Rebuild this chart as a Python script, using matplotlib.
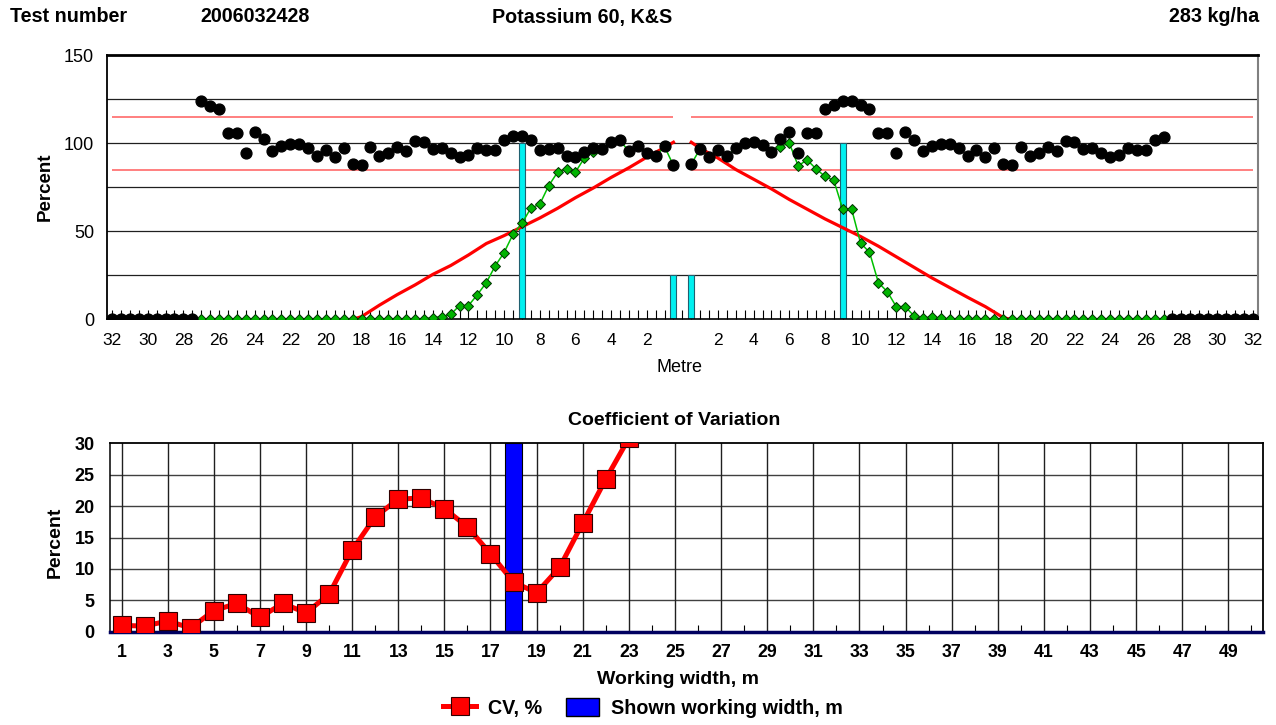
import numpy as np
import matplotlib
matplotlib.use('Agg')
import matplotlib.pyplot as plt
from matplotlib.lines import Line2D
from matplotlib.patches import Patch
from matplotlib.ticker import MultipleLocator

plt.rcParams['font.family'] = ['Liberation Sans', 'DejaVu Sans']

#################### DATA (top chart, percent per 0.5 m tray) ####################
metre_left = np.arange(-32, 0, 0.5)      # -32 .. -0.5
metre_right = np.arange(0.5, 32.5, 0.5)  # 0.5 .. 32

# overlapped distribution (black dots)
black_left = [0, 0, 0, 0, 0, 0, 0, 0, 0, 0,
              123.7, 121.2, 119.3, 105.5, 105.5, 94.5, 106.3, 102.1, 95.3, 98.5,
              99.4, 99.6, 97.2, 92.8, 96.0, 91.9, 97.0, 88.4, 87.3, 97.9,
              92.8, 94.5, 97.9, 95.3, 101.3, 100.6, 96.8, 97.0, 94.3, 91.9,
              93.0, 97.2, 96.2, 96.2, 101.9, 103.8, 103.8, 101.5, 96.2, 96.8,
              97.2, 92.8, 91.9, 94.7, 97.2, 96.6, 100.9, 101.5, 95.3, 98.1,
              94.3, 92.4, 98.1, 87.3]
black_right = [88.1, 96.8, 91.9, 96.2, 92.4, 97.2, 100.0, 100.4, 99.1, 94.7,
               102.3, 106.3, 94.3, 105.7, 105.7, 119.3, 121.8, 123.7, 123.7, 121.8,
               119.3, 105.7, 105.7, 94.3, 106.3, 101.9, 95.3, 98.5, 99.4, 99.6,
               97.2, 92.8, 96.0, 91.9, 97.0, 88.4, 87.3, 97.9, 92.8, 94.5,
               97.9, 95.3, 101.3, 100.6, 96.8, 97.0, 94.3, 91.9, 93.0, 97.2,
               96.2, 96.2, 101.9, 103.2,
               0, 0, 0, 0, 0, 0, 0, 0, 0, 0]

# single pass (green diamonds), nan = not drawn
nan = np.nan
green_left = [nan, nan, nan, nan, nan, nan, nan, nan, nan, nan,
              0, 0, 0, 0, 0, 0, 0, 0, 0, 0,
              0, 0, 0, 0, 0, 0, 0, 0, 0, 0,
              0, 0, 0, 0, 0, 0.3, 0.9, 1.5, 2.8, 7.8,
              7.8, 14.0, 20.8, 30.3, 37.9, 48.3, 54.5, 63.1, 65.3, 75.8,
              83.5, 85.5, 83.5, 91.5, 95.0, 96.6, 100.9, 101.5, 95.3, 98.1,
              94.3, 92.4, 98.1, 87.3]
green_right = [88.1, 96.8, 91.9, 96.2, 92.4, 97.2, 100.0, 100.4, 99.1, 94.7,
               98.0, 100.0, 87.1, 90.5, 85.4, 81.1, 78.8, 62.5, 62.5, 43.2,
               38.1, 20.8, 15.7, 7.2, 7.2, 1.9, 0.5, 1.5, 0.5, 0,
               0, 0, 0, 0, 0, 0, 0, 0, 0, 0,
               0, 0, 0, 0, 0, 0, 0, 0, 0, 0,
               0, 0, 0, 0,
               nan, nan, nan, nan, nan, nan, nan, nan, nan, nan]

# red curve
red_left_m = [-18.5, -18, -17, -16, -15, -14, -13, -12, -11, -10,
              -9, -8, -7, -6, -5, -4, -3, -2, -1, -0.5]
red_left = [0, 1.5, 8.0, 14.0, 19.5, 25.5, 30.5, 36.5, 43.0, 47.5,
            52.5, 57.5, 63.0, 69.0, 74.5, 80.5, 86.0, 92.0, 97.5, 100.5]
red_right_m = [0.5, 1, 2, 3, 4, 5, 6, 7, 8, 9,
               10, 11, 12, 13, 14, 15, 16, 17, 18, 18.4]
red_right = [100.5, 97.0, 91.5, 85.0, 79.5, 74.0, 68.0, 62.5, 57.0, 52.0,
             47.0, 41.5, 35.5, 29.5, 23.5, 18.0, 12.5, 7.2, 1.0, 0]

band_levels = [85, 115]
grid_levels = [25, 50, 75, 100, 125]

tram_m = [-9, -0.5, 0.5, 9]
tram_h = [100, 25, 25, 100]

xtick_pos = [-32, -30, -28, -26, -24, -22, -20, -18, -16, -14, -12, -10, -8, -6, -4, -2,
             2, 4, 6, 8, 10, 12, 14, 16, 18, 20, 22, 24, 26, 28, 30, 32]
xtick_lab = [str(abs(v)) for v in xtick_pos]

#################### DATA (bottom chart) ####################
cv_width = list(range(1, 24))
cv = [1.0, 0.9, 1.7, 0.6, 3.35, 4.5, 2.3, 4.5, 3.0, 5.95,
      13.0, 18.3, 21.1, 21.3, 19.6, 16.7, 12.4, 7.9, 6.2, 10.25,
      17.3, 24.3, 30.8]
shown_width = 18

W, H = 1276, 725
fig = plt.figure(figsize=(W / 100, H / 100), dpi=100)

def fx(px):
    return px / W

def fy(py):
    return 1 - py / H

#################### header ####################
fig.text(fx(10), fy(17), 'Test number', fontsize=14.2, fontweight='bold', va='center', ha='left')
fig.text(fx(200), fy(17), '2006032428', fontsize=14.2, fontweight='bold', va='center', ha='left')
fig.text(fx(582), fy(17), 'Potassium 60, K&S', fontsize=14.2, fontweight='bold', va='center', ha='center')
fig.text(fx(1259), fy(17), '283 kg/ha', fontsize=14.2, fontweight='bold', va='center', ha='right')

#################### top chart ####################
ax1 = fig.add_axes([fx(106.7), fy(319.3), fx(1258 - 106.7), (319.3 - 55) / H])
ax1.set_xlim(-32.3, 32.3)
ax1.set_ylim(0, 150)

for g in grid_levels:
    ax1.axhline(g, color='#202020', lw=0.9, zorder=1)
ax1.hlines(band_levels, -32, -0.5, color='#ff5c5c', lw=1.1, zorder=1.5)
ax1.hlines(band_levels, 0.5, 32, color='#ff5c5c', lw=1.1, zorder=1.5)

ax1.bar(tram_m, tram_h, width=0.33, color='#00f0f0', edgecolor='#206070', lw=0.8, zorder=2)

ax1.plot(red_left_m, red_left, color='#ff0000', lw=2.3, zorder=3)
ax1.plot(red_right_m, red_right, color='#ff0000', lw=2.3, zorder=3)

for xs, ys in [(metre_left, green_left), (metre_right, green_right)]:
    ax1.plot(xs, ys, color='#00c000', lw=1.1, marker='D', ms=5.5,
             mfc='#00b400', mec='#003000', mew=0.7, zorder=4)

ax1.plot(metre_left, black_left, ls='none', marker='o', ms=7.8, color='black', zorder=5)
ax1.plot(metre_right, black_right, ls='none', marker='o', ms=7.8, color='black', zorder=5)

ax1.set_xticks(xtick_pos)
ax1.set_xticklabels(xtick_lab, fontsize=12.5)
ax1.xaxis.set_minor_locator(MultipleLocator(0.5))
ax1.tick_params(axis='x', which='both', direction='in', length=6.5, width=0.8, pad=10)
ax1.set_yticks([0, 50, 100, 150])
ax1.set_yticklabels(['0', '50', '100', '150'], fontsize=13)
ax1.tick_params(axis='y', length=0, pad=9)

ax1.spines['top'].set_linewidth(2)
ax1.spines['right'].set_color('#808080')
ax1.spines['right'].set_linewidth(1.5)
ax1.spines['left'].set_linewidth(1.3)
ax1.spines['bottom'].set_linewidth(1.2)

fig.text(fx(45), fy(187), 'Percent', fontsize=13.5, fontweight='bold', rotation=90, va='center', ha='center')
fig.text(fx(680), fy(368), 'Metre', fontsize=13, va='center', ha='center')

#################### bottom chart ####################
ax2 = fig.add_axes([fx(110), fy(631.7), fx(1263 - 110), (631.7 - 443.3) / H])
ax2.set_xlim(0.5, 50.5)
ax2.set_ylim(0, 30)

for g in range(5, 30, 5):
    ax2.axhline(g, color='#404040', lw=1, zorder=1)
for v in range(1, 50, 2):
    ax2.axvline(v, color='#202020', lw=1, zorder=1)

ax2.bar([shown_width], [30], width=0.77, color='#0000ff', edgecolor='black', lw=0.8, zorder=2)
ax2.plot(cv_width, cv, color='#ff0000', lw=3.6, marker='s', ms=12.5,
         mfc='#ff0000', mec='#300000', mew=0.8, zorder=4)

ax2.set_xticks(list(range(1, 50, 2)))
ax2.set_xticklabels([str(v) for v in range(1, 50, 2)], fontsize=12.8, fontweight='bold')
ax2.xaxis.set_minor_locator(MultipleLocator(1))
ax2.tick_params(axis='x', which='major', length=0, pad=9)
ax2.tick_params(axis='x', which='minor', direction='in', length=5, width=0.8)
ax2.set_yticks(range(0, 31, 5))
ax2.set_yticklabels([str(v) for v in range(0, 31, 5)], fontsize=13, fontweight='bold')
ax2.tick_params(axis='y', length=0, pad=11)

ax2.spines['bottom'].set_color('#000060')
ax2.spines['bottom'].set_linewidth(2.5)
ax2.spines['top'].set_linewidth(1.3)
ax2.spines['right'].set_linewidth(1.3)
ax2.spines['left'].set_linewidth(1.1)

fig.text(fx(674), fy(420), 'Coefficient of Variation', fontsize=14, fontweight='bold', va='center', ha='center')
fig.text(fx(55), fy(542), 'Percent', fontsize=14, fontweight='bold', rotation=90, va='center', ha='center')
fig.text(fx(678), fy(680), 'Working width, m', fontsize=14, fontweight='bold', va='center', ha='center')

handles = [Line2D([0], [0], color='#ff0000', lw=3.6, marker='s', ms=12.5, mfc='#ff0000', mec='#300000', mew=0.8),
           Patch(facecolor='#0000ff', edgecolor='black')]
fig.legend(handles, ['CV, %', 'Shown working width, m'], loc='center', bbox_to_anchor=(fx(643), fy(708)),
           ncol=2, frameon=False, prop={'size': 14.2, 'weight': 'bold'},
           handlelength=1.7, handleheight=1.05, handletextpad=0.6, columnspacing=1.2)

fig.savefig('out.png', dpi=100)
